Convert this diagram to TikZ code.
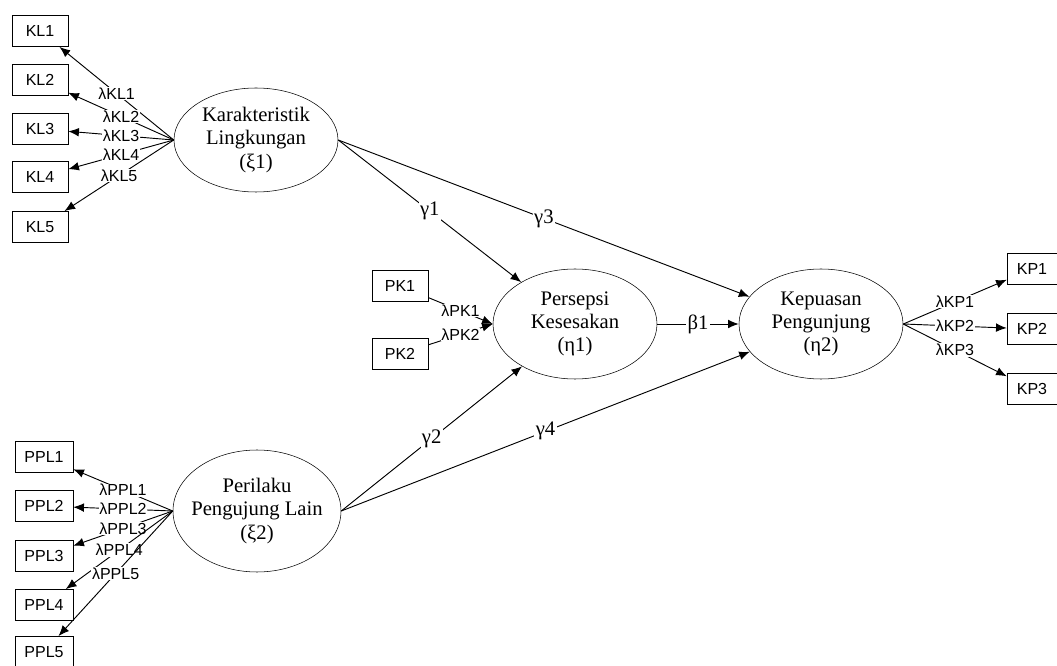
\documentclass[tikz,border=0pt]{standalone}
\usepackage{fontspec}
\setmainfont{Liberation Serif}
\newfontfamily\boxfont{Liberation Sans}
\usetikzlibrary{
  arrows.meta,
  shapes
}

\begin{document}
\begin{tikzpicture}[x=0.75pt, y=-0.75pt,
  ind/.style={draw, fill=white, font=\boxfont\fontsize{12}{14}\selectfont,
    minimum width=42pt, minimum height=23.5pt, inner sep=0pt},
  lat/.style={draw, ellipse, align=center, font=\fontsize{15.5}{17.5}\selectfont,
    minimum width=123pt, minimum height=82.5pt, inner sep=0pt},
  lam/.style={fill=white, font=\boxfont\fontsize{12}{14}\selectfont, inner sep=0.6pt},
  coef/.style={fill=white, font=\fontsize{15.5}{17.5}\selectfont, inner sep=1pt},
  rel/.style={-{Latex[length=8pt,width=6.5pt]}, line width=0.7pt}
]
  \def\Xkl{40};
  \def\Xppl{44};
  \def\Xpk{400};
  \def\Xkp{1032};
  \useasboundingbox (0,0) rectangle (1057,666);

        % latent variables
        \node[lat, minimum height=78pt] (KarL) at (256,140) {Karakteristik\\Lingkungan\\(ξ1)};
        \node[lat] (PerK) at (575,324) {Persepsi\\Kesesakan\\(η1)};
        \node[lat] (KepP) at (821,324) {Kepuasan\\Pengunjung\\(η2)};
        \node[lat, inner xsep=-5pt, minimum width=126pt, minimum height=91.5pt] (PerPL) at (257,511) {Perilaku\\Pengujung Lain\\(ξ2)};

        % indicators
        \node[ind] (KL1) at (\Xkl, 31)  {KL1};
        \node[ind] (KL2) at (\Xkl, 80)  {KL2};
        \node[ind] (KL3) at (\Xkl, 129) {KL3};
        \node[ind] (KL4) at (\Xkl, 177) {KL4};
        \node[ind] (KL5) at (\Xkl, 227) {KL5};

        \node[ind, minimum width=43.5pt] (PPL1) at (\Xppl, 457) {PPL1};
        \node[ind, minimum width=43.5pt] (PPL2) at (\Xppl, 506) {PPL2};
        \node[ind, minimum width=43.5pt] (PPL3) at (\Xppl, 556) {PPL3};
        \node[ind, minimum width=43.5pt] (PPL4) at (\Xppl, 605) {PPL4};
        \node[ind, minimum width=43.5pt] (PPL5) at (\Xppl, 652) {PPL5};

        \node[ind] (PK1) at (\Xpk, 286) {PK1};
        \node[ind] (PK2) at (\Xpk, 354) {PK2};

        \node[ind, minimum width=37.5pt] (KP1) at (\Xkp, 269) {KP1};
        \node[ind, minimum width=37.5pt] (KP2) at (\Xkp, 329) {KP2};
        \node[ind, minimum width=37.5pt] (KP3) at (\Xkp, 389) {KP3};

        % loadings
        \draw[rel] (KarL.west) -- node[lam] {λKL1} (KL1);
        \draw[rel] (KarL.west) -- node[lam] {λKL2} (KL2);
        \draw[rel] (KarL.west) -- node[lam] {λKL3} (KL3);
        \draw[rel] (KarL.west) -- node[lam] {λKL4} (KL4);
        \draw[rel] (KarL.west) -- node[lam] {λKL5} (KL5);

        \draw[rel] (PerPL.west) -- node[lam] {λPPL1} (PPL1);
        \draw[rel] (PerPL.west) -- node[lam] {λPPL2} (PPL2);
        \draw[rel] (PerPL.west) -- node[lam] {λPPL3} (PPL3);
        \draw[rel] (PerPL.west) -- node[lam] {λPPL4} (PPL4);
        \draw[rel] (PerPL.west) -- node[lam] {λPPL5} (PPL5);

        \draw[rel] (PK1) -- node[lam] {λPK1} (PerK.west);
        \draw[rel] (PK2) -- node[lam] {λPK2} (PerK.west);

        \draw[rel] (KepP.east) -- node[lam] {λKP1} (KP1);
        \draw[rel] (KepP.east) -- node[lam] {λKP2} (KP2);
        \draw[rel] (KepP.east) -- node[lam] {λKP3} (KP3);

        % structural paths
        \draw[rel] (KarL.east) -- node[coef] {γ1} (PerK);
        \draw[rel] (KarL.east) -- node[coef] {γ3} (KepP);
        \draw[rel] (PerPL.east) -- node[coef] {γ2} (PerK);
        \draw[rel] (PerPL.east) -- node[coef] {γ4} (KepP);
        \draw[rel] (PerK.east) -- node[coef] {β1} (KepP.west);

\end{tikzpicture}
\end{document}
